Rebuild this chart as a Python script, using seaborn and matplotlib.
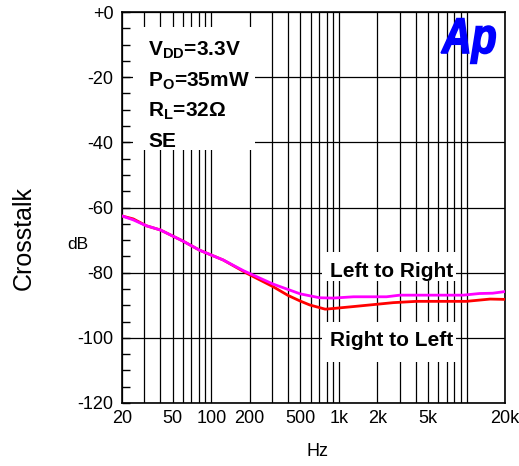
import numpy as np
import pandas as pd
import seaborn as sns
import matplotlib
matplotlib.use("Agg")
import matplotlib.pyplot as plt
from matplotlib.ticker import FixedLocator, NullFormatter, LogLocator
from matplotlib.patches import Rectangle, PathPatch
from matplotlib.textpath import TextPath
from matplotlib.font_manager import FontProperties
from matplotlib.transforms import Affine2D

# Crosstalk curves
freq_ltr = [20, 24.5, 31, 40, 60, 81, 124, 179, 305, 497, 706, 900, 1300,
            2360, 3000, 5450, 9400, 12600, 16000, 20000]
db_ltr = [-62.6, -63.8, -65.6, -66.9, -70.3, -73.1, -76.1, -79.4, -83.5, -86.5,
          -87.7, -87.8, -87.4, -87.4, -86.9, -86.9, -86.9, -86.4, -86.3, -85.8]

freq_rtl = [20, 24.5, 31, 40, 60, 81, 124, 190, 305, 400, 497, 590, 780, 900,
            1300, 1980, 2660, 4060, 9950, 15300, 20000]
db_rtl = [-62.6, -63.5, -65.6, -66.9, -70.3, -73.1, -76.1, -80.2, -84.3, -87.0,
          -88.7, -89.9, -91.2, -91.0, -90.4, -89.7, -89.2, -88.8, -88.8, -88.1, -88.2]

x_ticks = [20, 50, 100, 200, 500, 1000, 2000, 5000, 20000]
x_labels = ["20", "50", "100", "200", "500", "1k", "2k", "5k", "20k"]
y_ticks = [0, -20, -40, -60, -80, -100, -120]
y_labels = ["+0", "-20", "-40", "-60", "-80", "-100", "-120"]

df = pd.concat([
    pd.DataFrame({"Hz": freq_rtl, "dB": db_rtl, "dir": "Right to Left"}),
    pd.DataFrame({"Hz": freq_ltr, "dB": db_ltr, "dir": "Left to Right"}),
])

sns.set_style("white")
plt.rcParams["font.family"] = ["Liberation Sans", "DejaVu Sans"]
plt.rcParams["mathtext.fontset"] = "custom"
plt.rcParams["mathtext.rm"] = "Liberation Sans"
plt.rcParams["mathtext.bf"] = "Liberation Sans:bold"
for k in ["text.color", "axes.labelcolor", "xtick.color", "ytick.color"]:
    plt.rcParams[k] = "black"

fig = plt.figure(figsize=(5.19, 4.66), dpi=100)
ax = fig.add_axes([0.2351, 0.1352, 0.738, 0.839])

sns.lineplot(data=df, x="Hz", y="dB", hue="dir", sort=False, estimator=None,
             palette={"Right to Left": "#ff0000", "Left to Right": "#ff00ff"},
             linewidth=2.0, legend=False, ax=ax, zorder=3)

ax.set_xscale("log")
ax.set_xlim(20, 20000)
ax.set_ylim(-120, 0)
ax.xaxis.set_major_locator(FixedLocator(x_ticks))
ax.set_xticklabels(x_labels)
ax.xaxis.set_minor_locator(LogLocator(base=10, subs=np.arange(1, 10)))
ax.xaxis.set_minor_formatter(NullFormatter())
ax.yaxis.set_major_locator(FixedLocator(y_ticks))
ax.set_yticklabels(y_labels)
ax.yaxis.set_minor_locator(FixedLocator(np.arange(-120, 1, 5)))

ax.tick_params(axis="x", which="both", length=0, labelsize=13, pad=5)
ax.tick_params(axis="y", which="both", direction="in", length=6, width=1,
               color="black", labelsize=13, pad=6, left=True, right=False)
ax.grid(True, which="major", axis="both", color="black", linewidth=0.9)
ax.grid(True, which="minor", axis="x", color="black", linewidth=0.9)
ax.set_axisbelow(True)
for s in ax.spines.values():
    s.set_color("black")
    s.set_linewidth(1.2)
ax.set_xlabel("")
ax.set_ylabel("")

# white boxes behind the annotations
for x0, y0, w, h in [(0.029, 0.647, 0.318, 0.315),
                     (0.522, 0.312, 0.35, 0.074),
                     (0.522, 0.105, 0.35, 0.102)]:
    ax.add_patch(Rectangle((x0, y0), w, h, transform=ax.transAxes,
                           facecolor="white", edgecolor="none", zorder=1.5))

cond = [r"V$_{\mathbf{DD}}$=3.3V", r"P$_{\mathbf{O}}$=35mW",
        r"R$_{\mathbf{L}}$=32Ω", "SE"]
for txt, yy in zip(cond, [0.890, 0.811, 0.734, 0.655]):
    ax.text(0.068, yy, txt, transform=ax.transAxes, fontsize=15,
            fontweight="bold", va="baseline", ha="left", zorder=4)

ax.text(0.543, 0.323, "Left to Right", transform=ax.transAxes, fontsize=15,
        fontweight="bold", va="baseline", ha="left", zorder=4)
ax.text(0.543, 0.147, "Right to Left", transform=ax.transAxes, fontsize=15,
        fontweight="bold", va="baseline", ha="left", zorder=4)

fig.text(24 / 519, 1 - 238 / 466, "Crosstalk", rotation=90, fontsize=18,
         ha="center", va="center")
fig.text(78 / 519, 1 - 245 / 466, "dB", fontsize=12.5, ha="center", va="center")
fig.text(318 / 519, 1 - 452 / 466, "Hz", fontsize=13, ha="center", va="center")

# Ap logo
logo = TextPath((0, 0), "Ap", size=1,
                prop=FontProperties(family="Liberation Sans", weight="bold",
                                    style="italic"))
fig.add_artist(PathPatch(logo, transform=Affine2D().scale(41, 50).translate(442, 413),
                         facecolor="#0000ff", edgecolor="#0000ff", linewidth=1.2,
                         zorder=5))

fig.savefig("out.png", dpi=100)
